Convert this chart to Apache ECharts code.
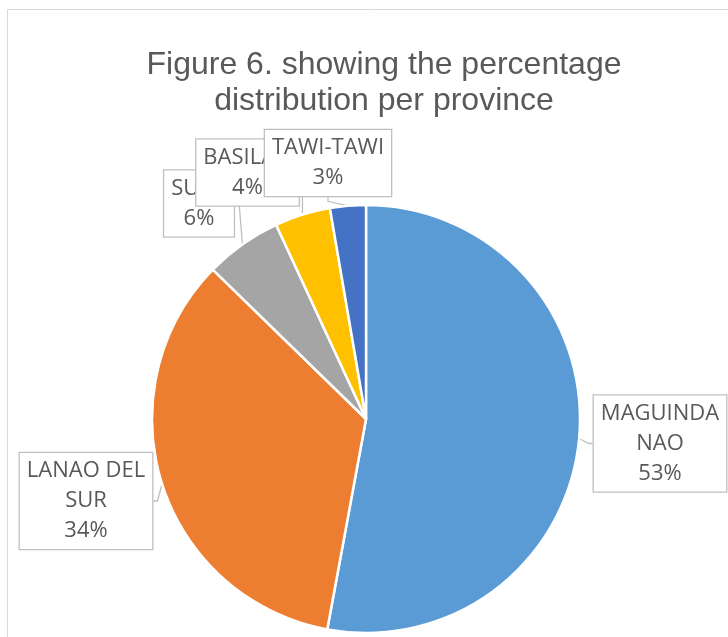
<!DOCTYPE html>
<html>
<head>
<meta charset="utf-8">
<script src="https://cdn.jsdelivr.net/npm/echarts@6/dist/echarts.min.js"></script>
<style>html,body{margin:0;padding:0;background:#fff;}#c{width:728px;height:637px;}</style>
</head>
<body>
<div id="c"></div>
<script>
const categories = ['MAGUINDANAO', 'LANAO DEL SUR', 'SULU', 'BASILAN', 'TAWI-TAWI'];
const displayNames = ['MAGUINDA\nNAO', 'LANAO DEL\nSUR', 'SULU', 'BASILAN', 'TAWI-TAWI'];
const values = [52.9, 34.4, 5.8, 4.2, 2.7];
const colors = ['#5B9BD5', '#ED7D31', '#A5A5A5', '#FFC000', '#4472C4'];
const titleText = 'Figure 6. showing the percentage\ndistribution per province';

// label box centres (layout only)
const labelPos = [[660, 443.5], [86, 501], [199, 203.5], [247.5, 172.5], [328, 163]];

const chart = echarts.init(document.getElementById('c'));
chart.setOption({
  backgroundColor: '#fff',
  animation: false,
  graphic: [{
    type: 'rect', silent: true, z: -10,
    shape: { x: 7.5, y: 9.5, width: 800, height: 700 },
    style: { fill: '#fff', stroke: '#d9d9d9', lineWidth: 1 }
  }],
  title: {
    text: titleText,
    left: 379, top: 42, textAlign: 'center',
    textStyle: { fontFamily: 'Liberation Sans', fontSize: 32, fontWeight: 'normal', color: '#595959', lineHeight: 36 }
  },
  series: [{
    type: 'pie',
    center: [366, 419],
    radius: 214,
    startAngle: 90,
    clockwise: true,
    percentPrecision: 0,
    avoidLabelOverlap: false,
    itemStyle: { borderColor: '#fff', borderWidth: 2.5 },
    data: categories.map((c, i) => ({ name: c, value: values[i], itemStyle: { color: colors[i] } })),
    label: {
      show: true,
      position: 'outside',
      formatter: p => displayNames[p.dataIndex] + '\n' + p.percent + '%',
      fontFamily: 'Open Sans', fontSize: 22, color: '#595959', lineHeight: 30, align: 'center',
      backgroundColor: '#fff', borderColor: '#bfbfbf', borderWidth: 1.3, padding: [3, 7]
    },
    labelLine: { show: true, length: 6, length2: 4, lineStyle: { color: '#bfbfbf', width: 1.3 } },
    labelLayout: function (params) {
      const p = labelPos[params.dataIndex];
      return { x: p[0], y: p[1], align: 'center', verticalAlign: 'middle', hideOverlap: false, moveOverlap: false };
    }
  }]
});
</script>
</body>
</html>
